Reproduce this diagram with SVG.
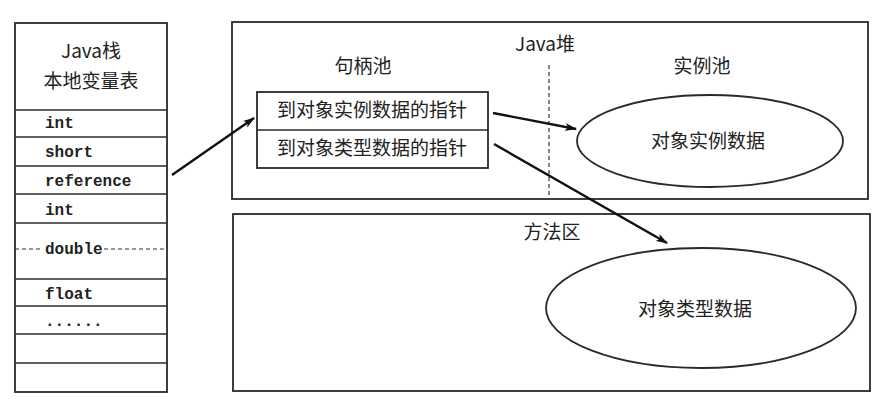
<svg xmlns="http://www.w3.org/2000/svg" width="887" height="403" viewBox="0 0 887 403">
<defs>
<style>
.box{fill:none;stroke:#2a2a2a;stroke-width:1.8}
.ln{stroke:#2a2a2a;stroke-width:1.5}
.dash{stroke:#333;stroke-width:1.2;stroke-dasharray:4 3}
.cn{font-family:"Noto Sans CJK SC","Noto Sans",sans-serif;font-size:19px;fill:#222;text-anchor:middle}
.mono{font-family:"Liberation Mono","DejaVu Sans Mono",monospace;font-size:16px;font-weight:bold;fill:#222}
.arr{stroke:#111;stroke-width:2.4;fill:none;marker-end:url(#ah)}
</style>
<marker id="ah" viewBox="0 0 12 8" refX="11" refY="4" markerWidth="12" markerHeight="8" markerUnits="userSpaceOnUse" orient="auto">
<path d="M0,0 L12,4 L0,8 L3,4 Z" fill="#111"/>
</marker>
</defs>
<rect width="887" height="403" fill="#fff"/>

<g id="java-stack">
<rect class="box" x="15" y="23" width="152" height="369"/>
<line class="ln" x1="15" y1="110" x2="167" y2="110"/>
<line class="ln" x1="15" y1="137" x2="167" y2="137"/>
<line class="ln" x1="15" y1="166" x2="167" y2="166"/>
<line class="ln" x1="15" y1="194" x2="167" y2="194"/>
<line class="ln" x1="15" y1="223" x2="167" y2="223"/>
<line class="dash" x1="15" y1="249" x2="43" y2="249"/>
<line class="dash" x1="104" y1="249" x2="167" y2="249"/>
<line class="ln" x1="15" y1="279" x2="167" y2="279"/>
<line class="ln" x1="15" y1="306" x2="167" y2="306"/>
<line class="ln" x1="15" y1="334" x2="167" y2="334"/>
<line class="ln" x1="15" y1="363" x2="167" y2="363"/>
<text class="cn" x="91" y="58">Java栈</text>
<text class="cn" x="91" y="88">本地变量表</text>
<text class="mono" x="45" y="128">int</text>
<text class="mono" x="45" y="157">short</text>
<text class="mono" x="45" y="186">reference</text>
<text class="mono" x="45" y="215">int</text>
<text class="mono" x="45" y="254">double</text>
<text class="mono" x="45" y="299">float</text>
<text class="mono" x="45" y="326">......</text>
</g>

<g id="java-heap">
<rect class="box" x="232" y="22" width="636" height="177"/>
<text class="cn" x="545" y="51">Java堆</text>
<line class="dash" x1="549" y1="65" x2="549" y2="198"/>
</g>

<g id="handle-pool">
<text class="cn" x="363" y="73">句柄池</text>
<rect class="box" x="257" y="92" width="231" height="76"/>
<line class="ln" x1="257" y1="130" x2="488" y2="130"/>
<text class="cn" x="372" y="117">到对象实例数据的指针</text>
<text class="cn" x="372" y="155">到对象类型数据的指针</text>
</g>

<g id="instance-pool">
<text class="cn" x="702" y="73">实例池</text>
<ellipse class="box" cx="710" cy="141" rx="133" ry="46"/>
<text class="cn" x="708" y="148">对象实例数据</text>
</g>

<g id="method-area">
<rect class="box" x="233" y="214" width="637" height="177"/>
<text class="cn" x="552" y="239">方法区</text>
<ellipse class="box" cx="701" cy="308" rx="155" ry="60"/>
<text class="cn" x="695" y="316">对象类型数据</text>
</g>

<g id="connectors">
<line class="arr" x1="172" y1="175" x2="254" y2="118"/>
<line class="arr" x1="493" y1="113" x2="576" y2="129"/>
<line class="arr" x1="494" y1="144" x2="667" y2="243"/>
</g>
</svg>
